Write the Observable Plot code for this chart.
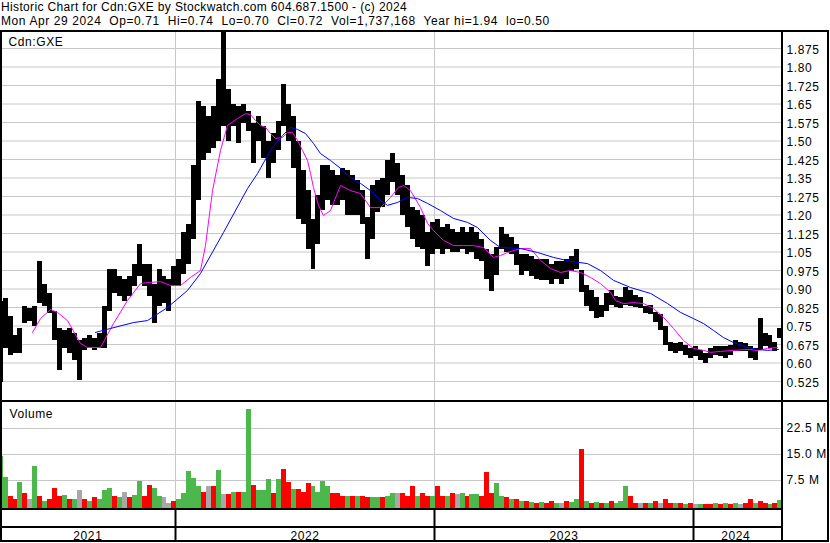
<!DOCTYPE html>
<html><head><meta charset="utf-8">
<script src="https://cdn.jsdelivr.net/npm/d3@7"></script>
<script src="https://cdn.jsdelivr.net/npm/@observablehq/plot@0.6"></script>
<style>
html,body{margin:0;padding:0;background:#fff;}
#wrap{position:relative;width:830px;height:543px;overflow:hidden;background:#fff;font-family:Arial,"Liberation Sans",sans-serif;font-size:12px;letter-spacing:0.6px;color:#000;}
.hdr{position:absolute;left:1px;white-space:pre;line-height:12px;}
.ln{position:absolute;background:#000;}
.pnl{position:absolute;left:0;}
</style></head>
<body><div id="wrap">
<div class="hdr" id="h1" style="top:1px;letter-spacing:0.35px"></div>
<div class="hdr" id="h2" style="top:15px"></div>
<div class="pnl" id="price" style="top:32px"></div>
<div class="pnl" id="vol" style="top:402px"></div>
<div class="pnl" id="years" style="top:510px"></div>
<div class="ln" style="left:0;top:30px;width:829px;height:2px"></div>
<div class="ln" style="left:0;top:30px;width:2px;height:512px"></div>
<div class="ln" style="left:827px;top:30px;width:2px;height:512px"></div>
<div class="ln" style="left:781px;top:30px;width:2px;height:512px"></div>
<div class="ln" style="left:0;top:400px;width:829px;height:2px"></div>
<div class="ln" style="left:0;top:508px;width:783px;height:2px"></div>
<div class="ln" style="left:0;top:526px;width:783px;height:2px"></div>
<div class="ln" style="left:0;top:540px;width:829px;height:2px"></div>
</div>
<script>
// ---------- data ----------
const title = "Historic Chart for Cdn:GXE by Stockwatch.com 604.687.1500 - (c) 2024";
const quoteLine = "Mon Apr 29 2024  Op=0.71  Hi=0.74  Lo=0.70  Cl=0.72  Vol=1,737,168  Year hi=1.94  lo=0.50";
const symbol = "Cdn:GXE";
const firstWeek = "2021-04-26";       // week 0 (data begins Apr 29 2021)
const lastDay = "2024-04-29";
const startDay = "2021-04-29";

// weekly high / low (price)
const weekHigh = [0.85,0.86,0.79,0.71,0.74,0.83,0.82,0.83,1.01,0.92,
0.88,0.81,0.74,0.73,0.74,0.72,0.69,0.70,0.71,0.70,
0.72,0.83,0.98,0.98,0.95,0.94,0.95,1.00,1.08,1.00,
1.00,0.92,0.98,0.95,0.94,0.99,1.02,1.13,1.16,1.40,
1.66,1.64,1.60,1.64,1.75,1.94,1.71,1.65,1.64,1.65,
1.62,1.57,1.60,1.56,1.50,1.53,1.58,1.73,1.65,1.60,
1.50,1.38,1.30,1.18,1.28,1.40,1.40,1.38,1.36,1.39,
1.38,1.36,1.34,1.30,1.19,1.32,1.34,1.35,1.42,1.45,
1.41,1.36,1.32,1.23,1.22,1.20,1.13,1.17,1.18,1.15,
1.16,1.14,1.13,1.15,1.13,1.15,1.13,1.10,1.06,1.04,
1.07,1.15,1.12,1.11,1.08,1.04,1.04,1.03,1.02,1.02,
1.02,1.00,1.01,1.01,1.02,1.03,1.06,0.975,0.915,0.895,
0.865,0.835,0.88,0.895,0.87,0.865,0.905,0.895,0.875,0.865,
0.83,0.835,0.805,0.795,0.75,0.685,0.68,0.685,0.67,0.66,
0.665,0.65,0.64,0.66,0.665,0.665,0.665,0.67,0.69,0.685,
0.68,0.665,0.66,0.78,0.72,0.71,0.685,0.74];
const weekLow = [0.52,0.66,0.63,0.64,0.64,0.76,0.77,0.75,0.84,0.83,
0.80,0.69,0.57,0.66,0.64,0.61,0.53,0.65,0.66,0.65,
0.66,0.66,0.81,0.88,0.87,0.85,0.87,0.91,0.95,0.91,
0.87,0.76,0.83,0.84,0.81,0.91,0.91,0.96,1.00,1.10,
1.26,1.42,1.45,1.47,1.50,1.56,1.50,1.56,1.49,1.57,
1.54,1.41,1.50,1.43,1.35,1.41,1.46,1.56,1.50,1.39,
1.18,1.16,1.06,0.98,1.08,1.22,1.26,1.24,1.24,1.26,
1.20,1.20,1.20,1.16,1.02,1.10,1.21,1.23,1.28,1.33,
1.28,1.20,1.15,1.10,1.07,1.06,0.99,1.04,1.06,1.04,
1.06,1.05,1.05,1.06,1.04,1.05,1.02,1.01,0.94,0.89,
0.955,1.06,1.05,1.04,0.995,0.955,0.97,0.95,0.94,0.935,
0.935,0.92,0.94,0.92,0.94,0.97,0.98,0.885,0.83,0.81,
0.78,0.785,0.81,0.835,0.825,0.82,0.835,0.83,0.825,0.82,
0.80,0.795,0.765,0.73,0.67,0.645,0.64,0.645,0.63,0.62,
0.625,0.61,0.60,0.62,0.63,0.625,0.62,0.63,0.645,0.645,
0.645,0.62,0.61,0.65,0.665,0.66,0.645,0.70];

// weekly volume (millions of shares) and direction (u = up, d = down, n = unchanged)
const weekVolume = [14.5,8.5,3,2,7,3.8,2,11.6,3,1.5,
2,5.3,3,3.3,2,2,4.6,2,1.5,2.5,
2,4.6,5.3,2.9,2.5,4,2.5,3.2,7.2,3,
6.1,5.3,3,2.5,0.8,1.5,2,3.8,10,8,
5.8,4,5.8,5.8,10.5,3.5,3.5,3.9,3.9,3.9,
28,6,4.5,4.5,7.7,3.8,7.7,10.7,7,5,
5,4,6.6,5.8,4,7.2,5.8,3.8,3.8,3,
3,3,3,3,2.5,2.5,2.5,2.5,3,3.8,
3.8,3.8,3,5.8,3,3.8,3,3,5.8,3,
3,3.8,3.5,3.8,3,3.5,3.5,3,9.7,3.8,
6.6,3,2.5,2,2,1.5,1.5,1.2,1,1.2,
1,1.5,1,1,1.5,1.2,2,16.3,1.5,1,
1.2,1,1,1.5,1,1.5,5.8,2.9,1,1,
0.8,1,1.5,1,1.9,1,0.8,0.8,0.7,1,
0.7,0.6,0.7,0.5,0.8,0.6,0.8,0.7,1,0.7,
0.8,1.9,0.8,1.5,0.8,0.7,0.8,1.7];
const weekDir = ["u","u","d","d","u","d","n","u","d","u",
"d","d","d","u","d","u","n","d","u","d",
"u","u","u","d","u","n","d","u","u","d",
"d","u","u","n","n","d","u","u","u","u",
"u","d","n","d","u","n","d","u","d","u",
"u","d","u","u","u","d","u","d","d","u",
"d","d","d","u","u","u","u","d","d","d",
"u","d","u","d","d","u","u","d","u","u",
"n","d","d","d","u","d","d","u","d","d",
"u","d","n","u","d","u","u","d","d","d",
"u","u","d","u","d","u","d","u","d","u",
"d","d","u","n","d","u","u","d","u","d",
"u","d","u","d","u","u","u","d","d","n",
"d","u","d","n","d","d","u","d","u","d",
"n","u","d","d","u","d","u","d","u","n",
"d","d","u","d","d","u","d","u"];

// moving averages (position in weeks since firstWeek, price)
const pinkWeek = [6.93,8.54,10.55,11.96,13.97,16.59,18.0,20.62,23.23,26.05,28.67,30.08,32.7,34.71,36.72,38.74,40.75,41.75,43.17,44.78,46.18,48.2,49.81,50.82,51.82,52.83,53.84,54.84,55.85,57.26,58.26,59.27,60.28,61.28,62.29,62.9,63.5,64.5,65.5,66.92,68.94,70.95,72.96,74.97,76.99,79.0,80.61,81.62,83.03,85.04,86.45,87.66,89.67,91.68,93.7,95.71,97.73,99.74,101.15,102.56,105.17,107.19,109.2,111.21,113.23,115.24,117.26,119.27,121.28,123.3,124.3,125.91,127.93,129.94,131.95,133.96,135.98,137.99,140.0,142.02,143.43,145.44,148.06,150.88,152.89,154.9,156.92];
const pinkMA = [0.724,0.780,0.817,0.805,0.772,0.679,0.663,0.663,0.760,0.853,0.922,0.926,0.930,0.914,0.914,0.947,0.975,1.076,1.299,1.462,1.563,1.591,1.611,1.607,1.583,1.563,1.555,1.530,1.510,1.514,1.534,1.534,1.502,1.462,1.421,1.368,1.311,1.239,1.198,1.218,1.320,1.299,1.287,1.230,1.230,1.271,1.311,1.320,1.299,1.230,1.166,1.137,1.097,1.076,1.076,1.076,1.068,1.028,1.036,1.048,1.064,1.064,1.016,0.983,0.967,0.975,0.967,0.947,0.922,0.886,0.853,0.841,0.845,0.841,0.821,0.785,0.740,0.691,0.659,0.651,0.643,0.647,0.651,0.655,0.651,0.659,0.663];
const blueWeek = [19.61,22.63,27.26,30.08,34.1,38.13,40.75,45.38,50.21,52.23,54.84,57.26,58.87,60.28,61.89,63.5,64.91,66.92,68.94,70.95,72.96,74.97,76.99,78.4,80.41,82.43,84.44,86.45,89.07,91.68,94.5,96.52,99.13,101.15,105.17,108.6,111.82,115.24,118.66,121.28,123.9,127.32,131.35,134.77,137.39,140.0,142.02,144.03,146.05,148.06,150.88,152.89,154.9,157.12];
const blueMA = [0.724,0.740,0.764,0.772,0.825,0.894,0.963,1.129,1.307,1.368,1.462,1.522,1.555,1.547,1.530,1.490,1.449,1.421,1.389,1.352,1.328,1.299,1.259,1.239,1.251,1.271,1.267,1.247,1.218,1.186,1.170,1.149,1.097,1.068,1.064,1.048,1.028,1.012,1.003,0.975,0.935,0.906,0.882,0.841,0.805,0.780,0.760,0.732,0.703,0.683,0.663,0.655,0.651,0.655];

// axes
const priceTicks = [0.525,0.6,0.675,0.75,0.825,0.9,0.975,1.05,1.125,1.2,1.275,1.35,1.425,1.5,1.575,1.65,1.725,1.8,1.875];
const priceTickLabels = ["0.525","0.60","0.675","0.75","0.825","0.90","0.975","1.05","1.125","1.20","1.275","1.35","1.425","1.50","1.575","1.65","1.725","1.80","1.875"];
const volTicks = [7.5,15,22.5];
const volTickLabels = ["7.5 M","15.0 M","22.5 M"];
const yearBreaks = ["2022-01-01","2023-01-01","2024-01-01"];
const yearNames = ["2021","2022","2023","2024"];

// ---------- build ----------
document.getElementById("h1").textContent = title;
document.getElementById("h2").textContent = quoteLine;

const DAY = 864e5;
const t0 = Date.parse(firstWeek);
const wDate = w => new Date(t0 + w * 7 * DAY);
const colorOf = {u: "#4cb84c", d: "#ff0000", n: "#a8a8a8"};

const weeks = weekHigh.map((h, i) => ({
  start: wDate(i), end: wDate(i + 1), hi: h, lo: weekLow[i],
  vol: weekVolume[i], col: colorOf[weekDir[i]]
}));
const pink = pinkWeek.map((w, i) => ({date: wDate(w), v: pinkMA[i]}));
const blue = blueWeek.map((w, i) => ({date: wDate(w), v: blueMA[i]}));
const breaks = yearBreaks.map(d => new Date(d));
const bounds = [new Date(startDay), ...breaks, new Date(lastDay)];
const yearSeg = yearNames.map((y, i) => ({name: y, mid: new Date((+bounds[i] + +bounds[i + 1]) / 2)}));

const priceLabel = new Map(priceTicks.map((t, i) => [t, priceTickLabels[i]]));
const volLabel = new Map(volTicks.map((t, i) => [t, volTickLabels[i]]));

const xScale = {type: "utc", domain: [new Date("2022-01-01"), new Date("2024-01-01")], range: [175, 693], axis: null};
const baseStyle = {background: "transparent", fontFamily: "Arial, 'Liberation Sans', sans-serif", fontSize: "12px", letterSpacing: "0.6px", color: "#000", overflow: "visible"};
const grid = "#c8c8c8";

const pricePlot = Plot.plot({
  width: 830, height: 368,
  marginLeft: 2, marginRight: 49, marginTop: 0, marginBottom: 0,
  x: xScale,
  y: {domain: [0.525, 1.875], range: [349, 16], axis: null},
  style: baseStyle,
  marks: [
    Plot.ruleY(priceTicks, {stroke: grid, strokeWidth: 1}),
    Plot.ruleX(breaks, {stroke: grid, strokeWidth: 1}),
    Plot.rect(weeks, {x1: "start", x2: "end", y1: "lo", y2: "hi", fill: "#000", clip: true, shapeRendering: "crispEdges"}),
    Plot.line(pink, {x: "date", y: "v", stroke: "#ff00ff", strokeWidth: 1, clip: true}),
    Plot.line(blue, {x: "date", y: "v", stroke: "#0000ff", strokeWidth: 1, clip: true}),
    Plot.axisY(priceTicks, {anchor: "right", tickSize: 0, tickPadding: 5, dy: 1.5, label: null, tickFormat: d => priceLabel.get(d), fill: "#000"}),
    Plot.text([symbol], {frameAnchor: "top-left", text: d => d, textAnchor: "start", lineAnchor: "top", dx: 6, dy: 4.5, fill: "#000"})
  ]
});
document.getElementById("price").appendChild(pricePlot);

const volPlot = Plot.plot({
  width: 830, height: 106,
  marginLeft: 2, marginRight: 49, marginTop: 0, marginBottom: 0,
  x: xScale,
  y: {domain: [0, 30], range: [104, 0], axis: null},
  style: baseStyle,
  marks: [
    Plot.ruleY(volTicks, {stroke: grid, strokeWidth: 1}),
    Plot.ruleX(breaks, {stroke: grid, strokeWidth: 1}),
    Plot.rect(weeks, {x1: "start", x2: "end", y1: 0, y2: "vol", fill: "col", insetBottom: -2, clip: true, shapeRendering: "crispEdges"}),
    Plot.axisY(volTicks, {anchor: "right", tickSize: 0, tickPadding: 5, label: null, tickFormat: d => volLabel.get(d), fill: "#000"}),
    Plot.text(["Volume"], {frameAnchor: "top-left", text: d => d, textAnchor: "start", lineAnchor: "top", dx: 7, dy: 6.5, fill: "#000"})
  ]
});
document.getElementById("vol").appendChild(volPlot);

const yearPlot = Plot.plot({
  width: 830, height: 31,
  marginLeft: 2, marginRight: 49, marginTop: 0, marginBottom: 0,
  x: xScale,
  y: {axis: null},
  style: baseStyle,
  marks: [
    Plot.ruleX(breaks, {stroke: "#000", strokeWidth: 2}),
    Plot.text(yearSeg, {x: "mid", text: "name", frameAnchor: "bottom", lineAnchor: "middle", dy: -5.5, fill: "#000"})
  ]
});
document.getElementById("years").appendChild(yearPlot);
</script>
</body></html>
